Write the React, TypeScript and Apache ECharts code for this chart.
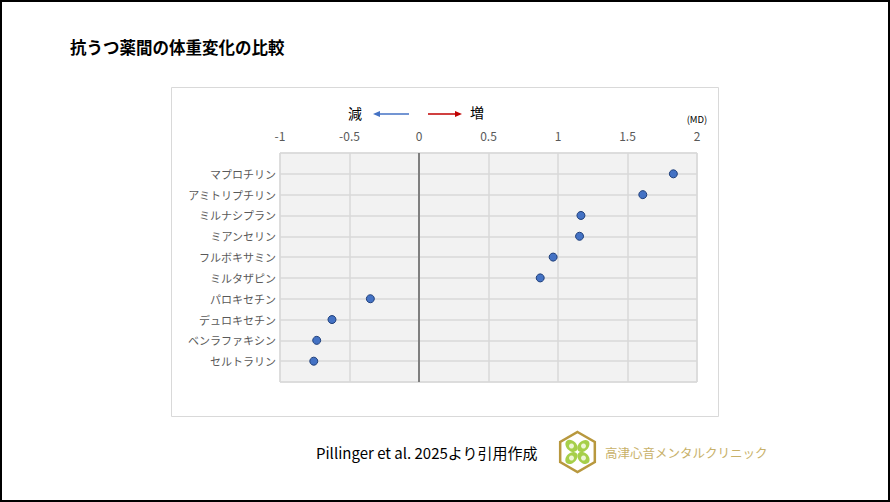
import React, { useEffect, useRef } from "react";
import * as echarts from "echarts";

const drugs = [
  "マプロチリン",
  "アミトリプチリン",
  "ミルナシプラン",
  "ミアンセリン",
  "フルボキサミン",
  "ミルタザピン",
  "パロキセチン",
  "デュロキセチン",
  "ベンラファキシン",
  "セルトラリン",
];
const md = [1.83, 1.61, 1.165, 1.155, 0.965, 0.872, -0.35, -0.626, -0.736, -0.757];
const xTicks = { min: -1, max: 2, interval: 0.5 };

const FONT = "'Noto Sans CJK JP', 'Noto Sans', sans-serif";

export default function App() {
  const ref = useRef<HTMLDivElement>(null);
  useEffect(() => {
    document.body.style.margin = "0";
    const chart = echarts.init(ref.current!, null, { renderer: "svg" });
    const cx = 577.5, cy = 452, r = 20;
    const hex: number[][] = [];
    for (let i = 0; i < 6; i++) {
      const a = ((-90 + 60 * i) * Math.PI) / 180;
      hex.push([cx + r * Math.cos(a), cy + r * Math.sin(a)]);
    }
    const leaves: any[] = [];
    [[-1, -1], [1, -1], [-1, 1], [1, 1]].forEach(([dx, dy]) => {
      leaves.push({
        type: "ellipse",
        shape: { cx: cx + dx * 6, cy: cy + dy * 6, rx: 7, ry: 5 },
        rotation: (dx * dy > 0 ? -1 : 1) * Math.PI / 4,
        originX: cx + dx * 6,
        originY: cy + dy * 6,
        style: { fill: "#a6cf4a" },
        z: 5,
      });
      leaves.push({
        type: "circle",
        shape: { cx: cx + dx * 6, cy: cy + dy * 6, r: 2.5 },
        style: { fill: "#eef6d6" },
        z: 6,
      });
    });
    chart.setOption({
      animation: false,
      backgroundColor: "#ffffff",
      textStyle: { fontFamily: FONT },
      grid: {
        left: 280,
        top: 153,
        width: 417,
        height: 229,
        show: true,
        backgroundColor: "#f2f2f2",
        borderColor: "#d9d9d9",
        borderWidth: 1,
        z: 1,
      },
      xAxis: {
        type: "value",
        position: "top",
        min: xTicks.min,
        max: xTicks.max,
        interval: xTicks.interval,
        z: 2,
        axisLine: { show: false },
        axisTick: { show: false },
        axisLabel: { color: "#595959", fontSize: 12, margin: 12, fontFamily: FONT },
        splitLine: { show: true, lineStyle: { color: "#d9d9d9", width: 1.5 } },
      },
      yAxis: {
        type: "value",
        inverse: true,
        min: 0,
        max: 11,
        interval: 1,
        z: 2,
        axisLine: { show: false },
        axisTick: { show: false },
        axisLabel: {
          color: "#595959",
          fontSize: 11,
          margin: 4,
          padding: [0, 0, 6, 0],
          fontFamily: FONT,
          formatter: (v: number) => (v >= 1 && v <= drugs.length ? drugs[v - 1] : ""),
        },
        splitLine: { show: true, lineStyle: { color: "#d9d9d9", width: 1.5 } },
      },
      series: [
        {
          type: "scatter",
          data: md.map((v, i) => [v, i + 1]),
          symbolSize: 8,
          itemStyle: { color: "#4472c4", borderColor: "#1f3f7a", borderWidth: 1, opacity: 1 },
          z: 10,
          markLine: {
            silent: true,
            symbol: "none",
            label: { show: false },
            lineStyle: { color: "#7f7f7f", width: 2, type: "solid" },
            data: [{ xAxis: 0 }],
            z: 5,
          },
        },
      ],
      graphic: [
        {
          type: "rect",
          shape: { x: 1, y: 1, width: 888, height: 500 },
          style: { fill: "none", stroke: "#000", lineWidth: 2 },
          z: 0,
        },
        {
          type: "rect",
          shape: { x: 171.5, y: 87.5, width: 547, height: 329 },
          style: { fill: "#fff", stroke: "#d9d9d9", lineWidth: 1 },
          z: -1,
        },
        {
          type: "text",
          x: 70,
          y: 47,
          style: {
            text: "抗うつ薬間の体重変化の比較",
            fontSize: 16.5,
            fontWeight: "bold",
            fontFamily: FONT,
            fill: "#000",
            verticalAlign: "middle",
          },
        },
        {
          type: "text",
          x: 355,
          y: 113,
          style: { text: "減", fontSize: 14, fontFamily: FONT, fill: "#000", align: "center", verticalAlign: "middle" },
        },
        {
          type: "text",
          x: 477,
          y: 112,
          style: { text: "増", fontSize: 14, fontFamily: FONT, fill: "#000", align: "center", verticalAlign: "middle" },
        },
        {
          type: "line",
          shape: { x1: 378, y1: 114, x2: 409, y2: 114 },
          style: { stroke: "#4472c4", lineWidth: 1.5 },
        },
        {
          type: "polygon",
          shape: { points: [[373, 114], [380, 111], [380, 117]] },
          style: { fill: "#4472c4" },
        },
        {
          type: "line",
          shape: { x1: 428, y1: 114, x2: 457, y2: 114 },
          style: { stroke: "#c00000", lineWidth: 1.5 },
        },
        {
          type: "polygon",
          shape: { points: [[462, 114], [455, 111], [455, 117]] },
          style: { fill: "#c00000" },
        },
        {
          type: "text",
          x: 697,
          y: 119,
          style: { text: "(MD)", fontSize: 9.5, fontFamily: FONT, fill: "#000", align: "center", verticalAlign: "middle" },
        },
        {
          type: "text",
          x: 316,
          y: 452,
          style: {
            text: "Pillinger et al. 2025より引用作成",
            fontSize: 15,
            fontFamily: FONT,
            fill: "#000",
            verticalAlign: "middle",
          },
        },
        {
          type: "polygon",
          shape: { points: hex },
          style: { fill: "#fff", stroke: "#b8983e", lineWidth: 2.5 },
          z: 4,
        },
        ...leaves,
        {
          type: "text",
          x: 605,
          y: 452,
          style: {
            text: "高津心音メンタルクリニック",
            fontSize: 12.5,
            fontFamily: FONT,
            fill: "#c8b169",
            verticalAlign: "middle",
          },
        },
      ],
    });
    return () => chart.dispose();
  }, []);
  return <div ref={ref} style={{ width: 890, height: 502 }} />;
}
